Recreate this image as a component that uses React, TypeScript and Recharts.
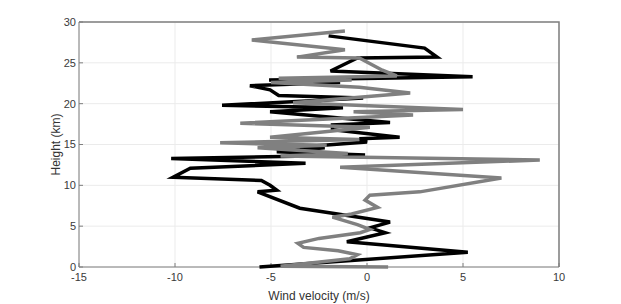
import { ScatterChart, Scatter, XAxis, YAxis, CartesianGrid } from 'recharts'

// wind velocity profiles, bottom to top
const blackHeight = [
  0, 1.8, 3.1, 4.2, 4.8, 5.5, 7.2, 9.2, 9.4, 10.0, 10.6, 11.0, 12.1, 12.7, 13.3, 13.7, 14.1, 14.6, 14.7, 15.3,
  15.7, 15.9, 16.8, 17.4, 17.7, 19.0, 19.5, 19.8, 20.7, 21.0, 21.7, 22.2, 22.6, 22.9, 23.3, 24.0, 25.6, 25.7, 26.8,
  28.3,
]
const blackWind = [
  -5.6, 5.25, -1.05, 0.95, 0.15, 1.2, -3.5, -5.7, -4.7, -5.05, -5.5, -10.1, -9.2, -3.2, -10.2, -0.1, -4.7, -2.2, -3.5,
  0, -0.4, 1.7, -1.8, -1.8, 1.2, -5.05, -1.25, -7.55, -0.2, -4.6, -5.05, -6.1, -1.4, -5.1, 5.5, -1.9, -0.5, 3.65, 3.0,
  -2.0,
]

const grayHeight = [
  0, 0.1, 1.0, 1.5, 2.0, 2.4, 2.9, 3.5, 4.2, 4.6, 5.2, 6.1, 6.5, 7.3, 8.2, 8.8, 9.2, 10.9, 12.2, 13.1, 13.6, 13.9,
  14.6, 14.9, 15.2, 15.6, 15.9, 17.1, 17.6, 18.6, 19.0, 19.3, 20.1, 21.3, 22.0, 22.6, 22.9, 23.1, 23.4, 24.1, 25.6,
  25.7, 26.6, 27.8, 28.9,
]
const grayWind = [
  1.1, -4.5, -0.9, -0.5, -1.5, -3.3, -3.6, -2.5, -0.35, 0.15, -0.5, -1.8, -0.8, 0.55, -0.1, 0.15, 2.75, 7.0, -1.4, 9.0,
  -4.5, -1.0, -5.7, -2.1, -7.65, -0.4, -5.05, 0.15, -6.6, 2.4, -0.7, 5.0, -3.85, 2.25, -0.4, -5.0, -0.8, -4.6, 1.55,
  0.8, -0.4, -3.65, -1.15, -6.0, -1.15,
]

const xTicks = [-15, -10, -5, 0, 5, 10]
const yTicks = [0, 5, 10, 15, 20, 25, 30]

// top and right edges of the axes box, at the domain limits
const frameWind = [-15, 10, 10]
const frameHeight = [30, 30, 0]

const blackData = blackHeight.map((h, i) => ({ h, v: blackWind[i] }))
const grayData = grayHeight.map((h, i) => ({ h, v: grayWind[i] }))
const frameData = frameHeight.map((h, i) => ({ h, v: frameWind[i] }))

const axisColor = '#7f7f7f'
const tickFont = { fontSize: 11, fill: '#3a3a3a', fontFamily: 'Liberation Sans, Arial, sans-serif' }

export default function App() {
  return (
    <div style={{ position: 'absolute', left: 0, top: 0, width: 621, height: 304, background: '#fff' }}>
      <ScatterChart width={621} height={304} margin={{ top: 22, right: 62, bottom: 0, left: 39 }}>
        <CartesianGrid stroke="#ebebeb" strokeWidth={1} />
        <XAxis
          type="number"
          dataKey="v"
          domain={[-15, 10]}
          ticks={xTicks}
          height={37}
          tick={tickFont}
          tickSize={-4}
          tickMargin={10}
          stroke={axisColor}
          label={{
            value: 'Wind velocity (m/s)',
            position: 'insideBottom',
            offset: 4,
            style: { ...tickFont, fontSize: 12, fill: '#333' },
          }}
        />
        <YAxis
          type="number"
          dataKey="h"
          domain={[0, 30]}
          ticks={yTicks}
          width={40}
          tick={tickFont}
          tickSize={-4}
          tickMargin={7}
          stroke={axisColor}
          label={{
            value: 'Height (km)',
            angle: -90,
            position: 'center',
            dx: -3,
            style: { ...tickFont, fontSize: 12, fill: '#333' },
          }}
        />
        <Scatter
          data={frameData}
          line={{ stroke: axisColor, strokeWidth: 1.5 }}
          lineType="joint"
          shape={() => <g />}
          isAnimationActive={false}
        />
        <Scatter
          data={blackData}
          line={{ stroke: '#000', strokeWidth: 3.5 }}
          lineType="joint"
          shape={() => <g />}
          isAnimationActive={false}
        />
        <Scatter
          data={grayData}
          line={{ stroke: '#808080', strokeWidth: 3.5 }}
          lineType="joint"
          shape={() => <g />}
          isAnimationActive={false}
        />
      </ScatterChart>
    </div>
  )
}
